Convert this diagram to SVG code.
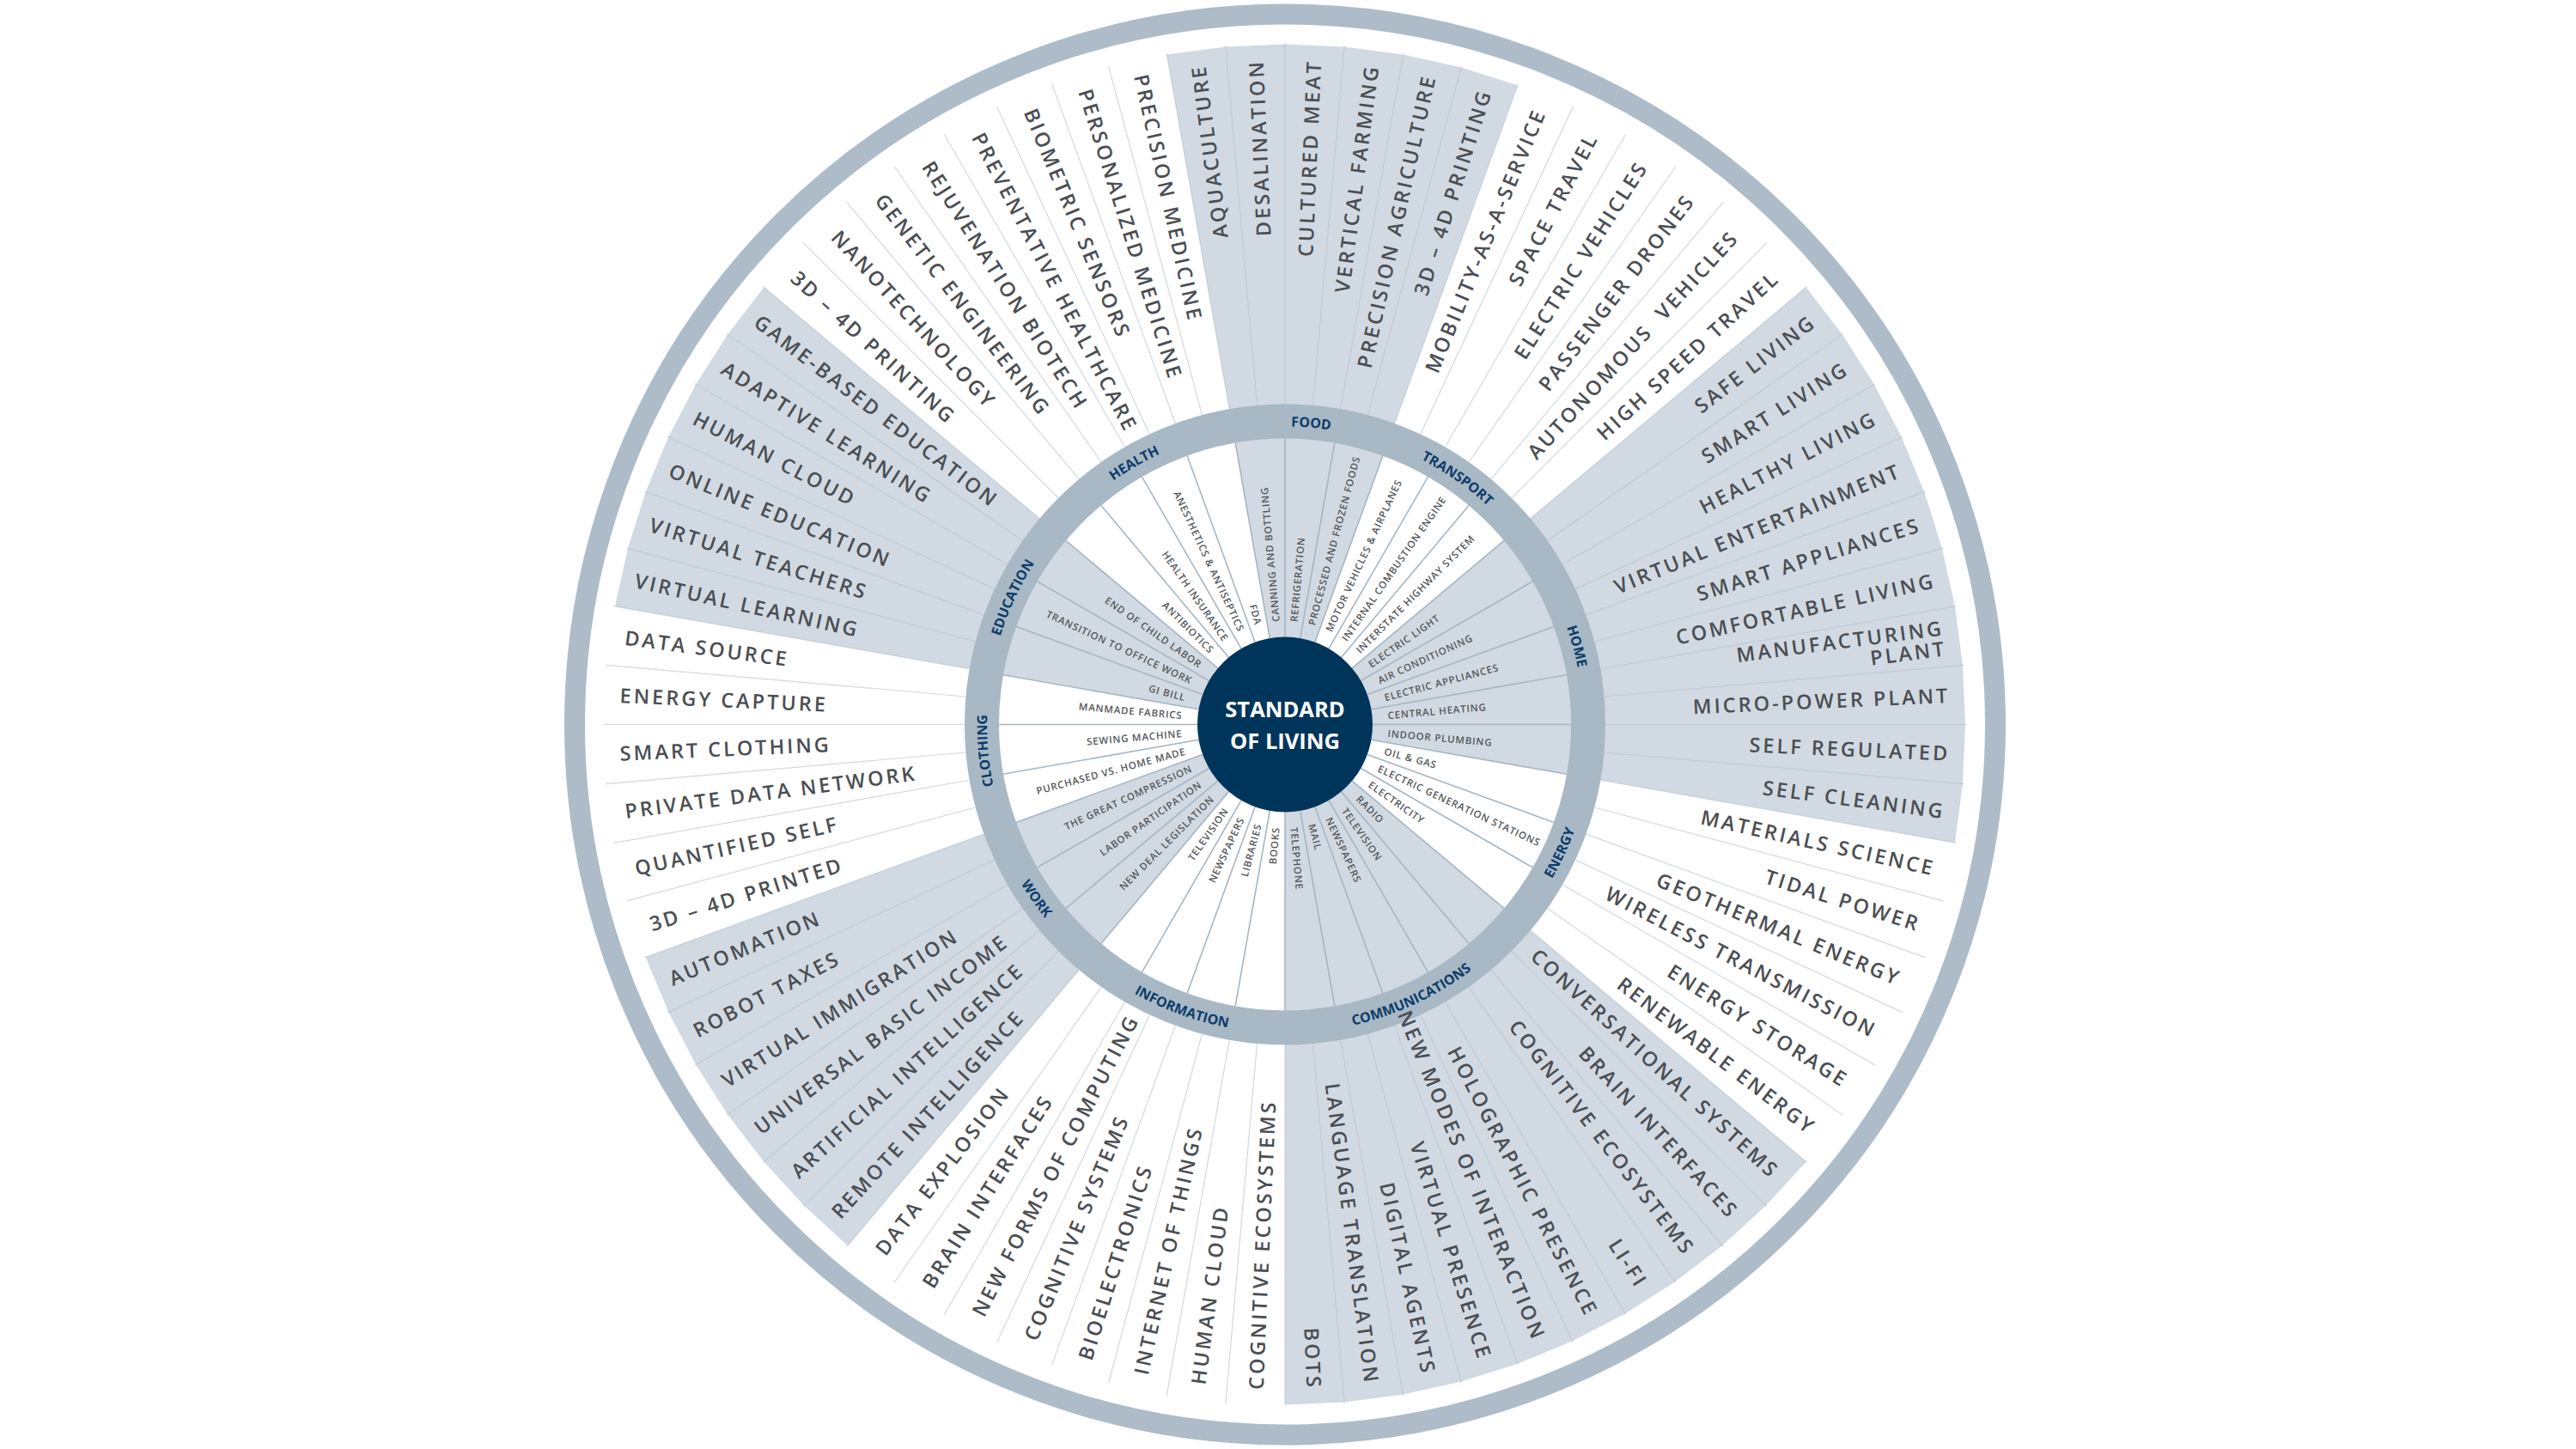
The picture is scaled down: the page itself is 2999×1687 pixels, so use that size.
<svg xmlns="http://www.w3.org/2000/svg" xmlns:xlink="http://www.w3.org/1999/xlink" width="2999" height="1687" viewBox="0 0 2999 1687">
<style>
.sh{fill:#d1dae2}
.o{font-family:"Open Sans","Liberation Sans",sans-serif;font-size:23.5px;font-weight:600;letter-spacing:3px;fill:#4b4e53}
.i{font-family:"Open Sans","Liberation Sans",sans-serif;font-size:11.5px;font-weight:600;letter-spacing:0.8px;fill:#55585c}
.e{text-anchor:end}
.c{font-family:"Open Sans","Liberation Sans",sans-serif;font-size:16px;font-weight:700;fill:#0d3c69;text-anchor:middle}
.ctr{font-family:"Open Sans","Liberation Sans",sans-serif;font-size:25.5px;font-weight:700;fill:#ffffff;text-anchor:middle}
.so{stroke:#b4bfca;stroke-opacity:0.6;stroke-width:1.2}
.si{stroke:#a6b6c3;stroke-width:1.6}
</style>
<defs>
<line id="li" x1="1496" y1="741.5" x2="1496" y2="510.5"/>
<line id="lo" x1="1496" y1="470.5" x2="1496" y2="50"/>
<path id="cw" d="M1496,496.5 A347,347 0 1 1 1496,1190.5 A347,347 0 1 1 1496,496.5"/>
<path id="ccw" d="M1496,484.5 A359,359 0 1 0 1496,1202.5 A359,359 0 1 0 1496,484.5"/>
</defs>
<rect width="2999" height="1687" fill="#ffffff"/>
<g id="wedges">
<path class="sh" d="M1496,843.5 L1358.47,63.53 L1426.97,54.52 L1496,51.5 L1565.03,54.52 L1633.53,63.53 L1700.99,78.48 L1766.88,99.27 Z"/>
<path class="sh" d="M1496,843.5 L2102.70,334.41 L2144.77,389.22 L2181.90,447.5 L2213.80,508.78 L2240.23,572.62 L2261.02,638.51 L2275.97,705.97 L2284.98,774.47 L2288,843.5 L2284.98,912.53 L2275.97,981.03 Z"/>
<path class="sh" d="M1496,843.5 L2102.70,1352.59 L2056.03,1403.53 L2005.09,1450.20 L1950.28,1492.27 L1892,1529.40 L1830.72,1561.30 L1766.88,1587.73 L1700.99,1608.52 L1633.53,1623.47 L1565.03,1632.48 L1496,1635.5 Z"/>
<path class="sh" d="M1496,843.5 L986.91,1450.20 L935.97,1403.53 L889.30,1352.59 L847.23,1297.78 L810.10,1239.5 L778.20,1178.22 L751.77,1114.38 Z"/>
<path class="sh" d="M1496,843.5 L716.03,705.97 L730.98,638.51 L751.77,572.62 L778.20,508.78 L810.10,447.5 L847.23,389.22 L889.30,334.41 Z"/>
</g>
<g id="connectors">
<g class="so">
<use xlink:href="#lo" transform="rotate(0 1496 843.5)"/><use xlink:href="#lo" transform="rotate(5 1496 843.5)"/><use xlink:href="#lo" transform="rotate(10 1496 843.5)"/><use xlink:href="#lo" transform="rotate(15 1496 843.5)"/><use xlink:href="#lo" transform="rotate(20 1496 843.5)"/><use xlink:href="#lo" transform="rotate(25 1496 843.5)"/><use xlink:href="#lo" transform="rotate(30 1496 843.5)"/><use xlink:href="#lo" transform="rotate(35 1496 843.5)"/><use xlink:href="#lo" transform="rotate(40 1496 843.5)"/><use xlink:href="#lo" transform="rotate(45 1496 843.5)"/><use xlink:href="#lo" transform="rotate(50 1496 843.5)"/><use xlink:href="#lo" transform="rotate(55 1496 843.5)"/><use xlink:href="#lo" transform="rotate(60 1496 843.5)"/><use xlink:href="#lo" transform="rotate(65 1496 843.5)"/><use xlink:href="#lo" transform="rotate(70 1496 843.5)"/><use xlink:href="#lo" transform="rotate(75 1496 843.5)"/><use xlink:href="#lo" transform="rotate(80 1496 843.5)"/><use xlink:href="#lo" transform="rotate(85 1496 843.5)"/><use xlink:href="#lo" transform="rotate(90 1496 843.5)"/><use xlink:href="#lo" transform="rotate(95 1496 843.5)"/><use xlink:href="#lo" transform="rotate(100 1496 843.5)"/><use xlink:href="#lo" transform="rotate(105 1496 843.5)"/><use xlink:href="#lo" transform="rotate(110 1496 843.5)"/><use xlink:href="#lo" transform="rotate(115 1496 843.5)"/><use xlink:href="#lo" transform="rotate(120 1496 843.5)"/><use xlink:href="#lo" transform="rotate(125 1496 843.5)"/><use xlink:href="#lo" transform="rotate(130 1496 843.5)"/><use xlink:href="#lo" transform="rotate(135 1496 843.5)"/><use xlink:href="#lo" transform="rotate(140 1496 843.5)"/><use xlink:href="#lo" transform="rotate(145 1496 843.5)"/><use xlink:href="#lo" transform="rotate(150 1496 843.5)"/><use xlink:href="#lo" transform="rotate(155 1496 843.5)"/><use xlink:href="#lo" transform="rotate(160 1496 843.5)"/><use xlink:href="#lo" transform="rotate(165 1496 843.5)"/><use xlink:href="#lo" transform="rotate(170 1496 843.5)"/><use xlink:href="#lo" transform="rotate(175 1496 843.5)"/><use xlink:href="#lo" transform="rotate(180 1496 843.5)"/><use xlink:href="#lo" transform="rotate(185 1496 843.5)"/><use xlink:href="#lo" transform="rotate(190 1496 843.5)"/><use xlink:href="#lo" transform="rotate(195 1496 843.5)"/><use xlink:href="#lo" transform="rotate(200 1496 843.5)"/><use xlink:href="#lo" transform="rotate(205 1496 843.5)"/><use xlink:href="#lo" transform="rotate(210 1496 843.5)"/><use xlink:href="#lo" transform="rotate(215 1496 843.5)"/><use xlink:href="#lo" transform="rotate(220 1496 843.5)"/><use xlink:href="#lo" transform="rotate(225 1496 843.5)"/><use xlink:href="#lo" transform="rotate(230 1496 843.5)"/><use xlink:href="#lo" transform="rotate(235 1496 843.5)"/><use xlink:href="#lo" transform="rotate(240 1496 843.5)"/><use xlink:href="#lo" transform="rotate(245 1496 843.5)"/><use xlink:href="#lo" transform="rotate(250 1496 843.5)"/><use xlink:href="#lo" transform="rotate(255 1496 843.5)"/><use xlink:href="#lo" transform="rotate(260 1496 843.5)"/><use xlink:href="#lo" transform="rotate(265 1496 843.5)"/><use xlink:href="#lo" transform="rotate(270 1496 843.5)"/><use xlink:href="#lo" transform="rotate(275 1496 843.5)"/><use xlink:href="#lo" transform="rotate(280 1496 843.5)"/><use xlink:href="#lo" transform="rotate(285 1496 843.5)"/><use xlink:href="#lo" transform="rotate(290 1496 843.5)"/><use xlink:href="#lo" transform="rotate(295 1496 843.5)"/><use xlink:href="#lo" transform="rotate(300 1496 843.5)"/><use xlink:href="#lo" transform="rotate(305 1496 843.5)"/><use xlink:href="#lo" transform="rotate(310 1496 843.5)"/><use xlink:href="#lo" transform="rotate(315 1496 843.5)"/><use xlink:href="#lo" transform="rotate(320 1496 843.5)"/><use xlink:href="#lo" transform="rotate(325 1496 843.5)"/><use xlink:href="#lo" transform="rotate(330 1496 843.5)"/><use xlink:href="#lo" transform="rotate(335 1496 843.5)"/><use xlink:href="#lo" transform="rotate(340 1496 843.5)"/><use xlink:href="#lo" transform="rotate(345 1496 843.5)"/><use xlink:href="#lo" transform="rotate(350 1496 843.5)"/><use xlink:href="#lo" transform="rotate(355 1496 843.5)"/>
</g>
<g class="si">
<use xlink:href="#li" transform="rotate(0 1496 843.5)"/><use xlink:href="#li" transform="rotate(10 1496 843.5)"/><use xlink:href="#li" transform="rotate(20 1496 843.5)"/><use xlink:href="#li" transform="rotate(30 1496 843.5)"/><use xlink:href="#li" transform="rotate(40 1496 843.5)"/><use xlink:href="#li" transform="rotate(50 1496 843.5)"/><use xlink:href="#li" transform="rotate(60 1496 843.5)"/><use xlink:href="#li" transform="rotate(70 1496 843.5)"/><use xlink:href="#li" transform="rotate(80 1496 843.5)"/><use xlink:href="#li" transform="rotate(90 1496 843.5)"/><use xlink:href="#li" transform="rotate(100 1496 843.5)"/><use xlink:href="#li" transform="rotate(110 1496 843.5)"/><use xlink:href="#li" transform="rotate(120 1496 843.5)"/><use xlink:href="#li" transform="rotate(130 1496 843.5)"/><use xlink:href="#li" transform="rotate(140 1496 843.5)"/><use xlink:href="#li" transform="rotate(150 1496 843.5)"/><use xlink:href="#li" transform="rotate(160 1496 843.5)"/><use xlink:href="#li" transform="rotate(170 1496 843.5)"/><use xlink:href="#li" transform="rotate(180 1496 843.5)"/><use xlink:href="#li" transform="rotate(190 1496 843.5)"/><use xlink:href="#li" transform="rotate(200 1496 843.5)"/><use xlink:href="#li" transform="rotate(210 1496 843.5)"/><use xlink:href="#li" transform="rotate(220 1496 843.5)"/><use xlink:href="#li" transform="rotate(230 1496 843.5)"/><use xlink:href="#li" transform="rotate(240 1496 843.5)"/><use xlink:href="#li" transform="rotate(250 1496 843.5)"/><use xlink:href="#li" transform="rotate(260 1496 843.5)"/><use xlink:href="#li" transform="rotate(270 1496 843.5)"/><use xlink:href="#li" transform="rotate(280 1496 843.5)"/><use xlink:href="#li" transform="rotate(290 1496 843.5)"/><use xlink:href="#li" transform="rotate(300 1496 843.5)"/><use xlink:href="#li" transform="rotate(310 1496 843.5)"/><use xlink:href="#li" transform="rotate(320 1496 843.5)"/><use xlink:href="#li" transform="rotate(330 1496 843.5)"/><use xlink:href="#li" transform="rotate(340 1496 843.5)"/><use xlink:href="#li" transform="rotate(350 1496 843.5)"/>
</g>
</g>
<g id="rings">
<circle cx="1496" cy="843.5" r="353" fill="none" stroke="#a8b8c5" stroke-width="40"/>
<circle cx="1496" cy="843.5" r="827" fill="none" stroke="#adbcc8" stroke-width="24"/>
</g>
<g id="center">
<circle cx="1496" cy="843.5" r="102" fill="#00355b"/>
<text class="ctr" x="1496" y="835">STANDARD</text>
<text class="ctr" x="1496" y="872">OF LIVING</text>
</g>
<g id="food">
<text class="c"><textPath xlink:href="#cw" startOffset="1.389%">FOOD</textPath></text>
<g class="i">
<text x="1616" y="843.5" dy="0.36em" transform="rotate(-95 1496 843.5)">CANNING AND BOTTLING</text>
<text x="1616" y="843.5" dy="0.36em" transform="rotate(-85 1496 843.5)">REFRIGERATION</text>
<text x="1616" y="843.5" dy="0.36em" transform="rotate(-75 1496 843.5)">PROCESSED AND FROZEN FOODS</text>
</g>
<g class="o e">
<text x="2271" y="843.5" dy="0.36em" transform="rotate(-97.5 1496 843.5)">AQUACULTURE</text>
<text x="2271" y="843.5" dy="0.36em" transform="rotate(-92.5 1496 843.5)">DESALINATION</text>
<text x="2271" y="843.5" dy="0.36em" transform="rotate(-87.5 1496 843.5)">CULTURED MEAT</text>
<text x="2271" y="843.5" dy="0.36em" transform="rotate(-82.5 1496 843.5)">VERTICAL FARMING</text>
<text x="2271" y="843.5" dy="0.36em" transform="rotate(-77.5 1496 843.5)">PRECISION AGRICULTURE</text>
<text x="2271" y="843.5" dy="0.36em" transform="rotate(-72.5 1496 843.5)">3D – 4D PRINTING</text>
</g>
</g>
<g id="transport">
<text class="c"><textPath xlink:href="#cw" startOffset="9.722%">TRANSPORT</textPath></text>
<g class="i">
<text x="1616" y="843.5" dy="0.36em" transform="rotate(-65 1496 843.5)">MOTOR VEHICLES &amp; AIRPLANES</text>
<text x="1616" y="843.5" dy="0.36em" transform="rotate(-55 1496 843.5)">INTERNAL COMBUSTION ENGINE</text>
<text x="1616" y="843.5" dy="0.36em" transform="rotate(-45 1496 843.5)">INTERSTATE HIGHWAY SYSTEM</text>
</g>
<g class="o e">
<text x="2271" y="843.5" dy="0.36em" transform="rotate(-67.5 1496 843.5)">MOBILITY-AS-A-SERVICE</text>
<text x="2271" y="843.5" dy="0.36em" transform="rotate(-62.5 1496 843.5)">SPACE TRAVEL</text>
<text x="2271" y="843.5" dy="0.36em" transform="rotate(-57.5 1496 843.5)">ELECTRIC VEHICLES</text>
<text x="2271" y="843.5" dy="0.36em" transform="rotate(-52.5 1496 843.5)">PASSENGER DRONES</text>
<text x="2271" y="843.5" dy="0.36em" transform="rotate(-47.5 1496 843.5)">AUTONOMOUS&#160; VEHICLES</text>
<text x="2271" y="843.5" dy="0.36em" transform="rotate(-42.5 1496 843.5)">HIGH SPEED TRAVEL</text>
</g>
</g>
<g id="home">
<text class="c"><textPath xlink:href="#cw" startOffset="20.833%">HOME</textPath></text>
<g class="i">
<text x="1616" y="843.5" dy="0.36em" transform="rotate(-35 1496 843.5)">ELECTRIC LIGHT</text>
<text x="1616" y="843.5" dy="0.36em" transform="rotate(-25 1496 843.5)">AIR CONDITIONING</text>
<text x="1616" y="843.5" dy="0.36em" transform="rotate(-15 1496 843.5)">ELECTRIC APPLIANCES</text>
<text x="1616" y="843.5" dy="0.36em" transform="rotate(-5 1496 843.5)">CENTRAL HEATING</text>
<text x="1616" y="843.5" dy="0.36em" transform="rotate(5 1496 843.5)">INDOOR PLUMBING</text>
</g>
<g class="o e">
<text x="2271" y="843.5" dy="0.36em" transform="rotate(-37.5 1496 843.5)">SAFE LIVING</text>
<text x="2271" y="843.5" dy="0.36em" transform="rotate(-32.5 1496 843.5)">SMART LIVING</text>
<text x="2271" y="843.5" dy="0.36em" transform="rotate(-27.5 1496 843.5)">HEALTHY LIVING</text>
<text x="2271" y="843.5" dy="0.36em" transform="rotate(-22.5 1496 843.5)">VIRTUAL ENTERTAINMENT</text>
<text x="2271" y="843.5" dy="0.36em" transform="rotate(-17.5 1496 843.5)">SMART APPLIANCES</text>
<text x="2271" y="843.5" dy="0.36em" transform="rotate(-12.5 1496 843.5)">COMFORTABLE LIVING</text>
<text y="843.5" transform="rotate(-7.5 1496 843.5)"><tspan x="2271" dy="-3">MANUFACTURING</tspan><tspan x="2271" dy="24">PLANT</tspan></text>
<text x="2271" y="843.5" dy="0.36em" transform="rotate(-2.5 1496 843.5)">MICRO-POWER PLANT</text>
<text x="2271" y="843.5" dy="0.36em" transform="rotate(2.5 1496 843.5)">SELF REGULATED</text>
<text x="2271" y="843.5" dy="0.36em" transform="rotate(7.5 1496 843.5)">SELF CLEANING</text>
</g>
</g>
<g id="energy">
<text class="c"><textPath xlink:href="#ccw" startOffset="68.056%">ENERGY</textPath></text>
<g class="i">
<text x="1616" y="843.5" dy="0.36em" transform="rotate(15 1496 843.5)">OIL &amp; GAS</text>
<text x="1616" y="843.5" dy="0.36em" transform="rotate(25 1496 843.5)">ELECTRIC GENERATION STATIONS</text>
<text x="1616" y="843.5" dy="0.36em" transform="rotate(35 1496 843.5)">ELECTRICITY</text>
</g>
<g class="o e">
<text x="2271" y="843.5" dy="0.36em" transform="rotate(12.5 1496 843.5)">MATERIALS SCIENCE</text>
<text x="2271" y="843.5" dy="0.36em" transform="rotate(17.5 1496 843.5)">TIDAL POWER</text>
<text x="2271" y="843.5" dy="0.36em" transform="rotate(22.5 1496 843.5)">GEOTHERMAL ENERGY</text>
<text x="2271" y="843.5" dy="0.36em" transform="rotate(27.5 1496 843.5)">WIRELESS TRANSMISSION</text>
<text x="2271" y="843.5" dy="0.36em" transform="rotate(32.5 1496 843.5)">ENERGY STORAGE</text>
<text x="2271" y="843.5" dy="0.36em" transform="rotate(37.5 1496 843.5)">RENEWABLE ENERGY</text>
</g>
</g>
<g id="communications">
<text class="c"><textPath xlink:href="#ccw" startOffset="56.944%">COMMUNICATIONS</textPath></text>
<g class="i">
<text x="1616" y="843.5" dy="0.36em" transform="rotate(45 1496 843.5)">RADIO</text>
<text x="1616" y="843.5" dy="0.36em" transform="rotate(55 1496 843.5)">TELEVISION</text>
<text x="1616" y="843.5" dy="0.36em" transform="rotate(65 1496 843.5)">NEWSPAPERS</text>
<text x="1616" y="843.5" dy="0.36em" transform="rotate(75 1496 843.5)">MAIL</text>
<text x="1616" y="843.5" dy="0.36em" transform="rotate(85 1496 843.5)">TELEPHONE</text>
</g>
<g class="o e">
<text x="2271" y="843.5" dy="0.36em" transform="rotate(42.5 1496 843.5)">CONVERSATIONAL SYSTEMS</text>
<text x="2271" y="843.5" dy="0.36em" transform="rotate(47.5 1496 843.5)">BRAIN INTERFACES</text>
<text x="2271" y="843.5" dy="0.36em" transform="rotate(52.5 1496 843.5)">COGNITIVE ECOSYSTEMS</text>
<text x="2271" y="843.5" dy="0.36em" transform="rotate(57.5 1496 843.5)">LI-FI</text>
<text x="2271" y="843.5" dy="0.36em" transform="rotate(62.5 1496 843.5)">HOLOGRAPHIC PRESENCE</text>
<text x="2271" y="843.5" dy="0.36em" transform="rotate(67.5 1496 843.5)">NEW MODES OF INTERACTION</text>
<text x="2271" y="843.5" dy="0.36em" transform="rotate(72.5 1496 843.5)">VIRTUAL PRESENCE</text>
<text x="2271" y="843.5" dy="0.36em" transform="rotate(77.5 1496 843.5)">DIGITAL AGENTS</text>
<text x="2271" y="843.5" dy="0.36em" transform="rotate(82.5 1496 843.5)">LANGUAGE TRANSLATION</text>
<text x="2271" y="843.5" dy="0.36em" transform="rotate(87.5 1496 843.5)">BOTS</text>
</g>
</g>
<g id="information">
<text class="c"><textPath xlink:href="#ccw" startOffset="44.444%">INFORMATION</textPath></text>
<g class="i e">
<text x="1376" y="843.5" dy="0.36em" transform="rotate(-85 1496 843.5)">BOOKS</text>
<text x="1376" y="843.5" dy="0.36em" transform="rotate(-75 1496 843.5)">LIBRARIES</text>
<text x="1376" y="843.5" dy="0.36em" transform="rotate(-65 1496 843.5)">NEWSPAPERS</text>
<text x="1376" y="843.5" dy="0.36em" transform="rotate(-55 1496 843.5)">TELEVISION</text>
</g>
<g class="o">
<text x="721" y="843.5" dy="0.36em" transform="rotate(-87.5 1496 843.5)">COGNITIVE ECOSYSTEMS</text>
<text x="721" y="843.5" dy="0.36em" transform="rotate(-82.5 1496 843.5)">HUMAN CLOUD</text>
<text x="721" y="843.5" dy="0.36em" transform="rotate(-77.5 1496 843.5)">INTERNET OF THINGS</text>
<text x="721" y="843.5" dy="0.36em" transform="rotate(-72.5 1496 843.5)">BIOELECTRONICS</text>
<text x="721" y="843.5" dy="0.36em" transform="rotate(-67.5 1496 843.5)">COGNITIVE SYSTEMS</text>
<text x="721" y="843.5" dy="0.36em" transform="rotate(-62.5 1496 843.5)">NEW FORMS OF COMPUTING</text>
<text x="721" y="843.5" dy="0.36em" transform="rotate(-57.5 1496 843.5)">BRAIN INTERFACES</text>
<text x="721" y="843.5" dy="0.36em" transform="rotate(-52.5 1496 843.5)">DATA EXPLOSION</text>
</g>
</g>
<g id="work">
<text class="c"><textPath xlink:href="#ccw" startOffset="34.722%">WORK</textPath></text>
<g class="i e">
<text x="1376" y="843.5" dy="0.36em" transform="rotate(-45 1496 843.5)">NEW DEAL LEGISLATION</text>
<text x="1376" y="843.5" dy="0.36em" transform="rotate(-35 1496 843.5)">LABOR PARTICIPATION</text>
<text x="1376" y="843.5" dy="0.36em" transform="rotate(-25 1496 843.5)">THE GREAT COMPRESSION</text>
</g>
<g class="o">
<text x="721" y="843.5" dy="0.36em" transform="rotate(-47.5 1496 843.5)">REMOTE INTELLIGENCE</text>
<text x="721" y="843.5" dy="0.36em" transform="rotate(-42.5 1496 843.5)">ARTIFICIAL INTELLIGENCE</text>
<text x="721" y="843.5" dy="0.36em" transform="rotate(-37.5 1496 843.5)">UNIVERSAL BASIC INCOME</text>
<text x="721" y="843.5" dy="0.36em" transform="rotate(-32.5 1496 843.5)">VIRTUAL IMMIGRATION</text>
<text x="721" y="843.5" dy="0.36em" transform="rotate(-27.5 1496 843.5)">ROBOT TAXES</text>
<text x="721" y="843.5" dy="0.36em" transform="rotate(-22.5 1496 843.5)">AUTOMATION</text>
</g>
</g>
<g id="clothing">
<text class="c"><textPath xlink:href="#cw" startOffset="73.611%">CLOTHING</textPath></text>
<g class="i e">
<text x="1376" y="843.5" dy="0.36em" transform="rotate(-15 1496 843.5)">PURCHASED VS. HOME MADE</text>
<text x="1376" y="843.5" dy="0.36em" transform="rotate(-5 1496 843.5)">SEWING MACHINE</text>
<text x="1376" y="843.5" dy="0.36em" transform="rotate(5 1496 843.5)">MANMADE FABRICS</text>
</g>
<g class="o">
<text x="721" y="843.5" dy="0.36em" transform="rotate(-17.5 1496 843.5)">3D – 4D PRINTED</text>
<text x="721" y="843.5" dy="0.36em" transform="rotate(-12.5 1496 843.5)">QUANTIFIED SELF</text>
<text x="721" y="843.5" dy="0.36em" transform="rotate(-7.5 1496 843.5)">PRIVATE DATA NETWORK</text>
<text x="721" y="843.5" dy="0.36em" transform="rotate(-2.5 1496 843.5)">SMART CLOTHING</text>
<text x="721" y="843.5" dy="0.36em" transform="rotate(2.5 1496 843.5)">ENERGY CAPTURE</text>
<text x="721" y="843.5" dy="0.36em" transform="rotate(7.5 1496 843.5)">DATA SOURCE</text>
</g>
</g>
<g id="education">
<text class="c"><textPath xlink:href="#cw" startOffset="81.944%">EDUCATION</textPath></text>
<g class="i e">
<text x="1376" y="843.5" dy="0.36em" transform="rotate(15 1496 843.5)">GI BILL</text>
<text x="1376" y="843.5" dy="0.36em" transform="rotate(25 1496 843.5)">TRANSITION TO OFFICE WORK</text>
<text x="1376" y="843.5" dy="0.36em" transform="rotate(35 1496 843.5)">END OF CHILD LABOR</text>
</g>
<g class="o">
<text x="721" y="843.5" dy="0.36em" transform="rotate(12.5 1496 843.5)">VIRTUAL LEARNING</text>
<text x="721" y="843.5" dy="0.36em" transform="rotate(17.5 1496 843.5)">VIRTUAL TEACHERS</text>
<text x="721" y="843.5" dy="0.36em" transform="rotate(22.5 1496 843.5)">ONLINE EDUCATION</text>
<text x="721" y="843.5" dy="0.36em" transform="rotate(27.5 1496 843.5)">HUMAN CLOUD</text>
<text x="721" y="843.5" dy="0.36em" transform="rotate(32.5 1496 843.5)">ADAPTIVE LEARNING</text>
<text x="721" y="843.5" dy="0.36em" transform="rotate(37.5 1496 843.5)">GAME-BASED EDUCATION</text>
</g>
</g>
<g id="health">
<text class="c"><textPath xlink:href="#cw" startOffset="91.667%">HEALTH</textPath></text>
<g class="i e">
<text x="1376" y="843.5" dy="0.36em" transform="rotate(45 1496 843.5)">ANTIBIOTICS</text>
<text x="1376" y="843.5" dy="0.36em" transform="rotate(55 1496 843.5)">HEALTH INSURANCE</text>
<text x="1376" y="843.5" dy="0.36em" transform="rotate(65 1496 843.5)">ANESTHETICS &amp; ANTISEPTICS</text>
<text x="1376" y="843.5" dy="0.36em" transform="rotate(75 1496 843.5)">FDA</text>
</g>
<g class="o">
<text x="721" y="843.5" dy="0.36em" transform="rotate(42.5 1496 843.5)">3D – 4D PRINTING</text>
<text x="721" y="843.5" dy="0.36em" transform="rotate(47.5 1496 843.5)">NANOTECHNOLOGY</text>
<text x="721" y="843.5" dy="0.36em" transform="rotate(52.5 1496 843.5)">GENETIC ENGINEERING</text>
<text x="721" y="843.5" dy="0.36em" transform="rotate(57.5 1496 843.5)">REJUVENATION BIOTECH</text>
<text x="721" y="843.5" dy="0.36em" transform="rotate(62.5 1496 843.5)">PREVENTATIVE HEALTHCARE</text>
<text x="721" y="843.5" dy="0.36em" transform="rotate(67.5 1496 843.5)">BIOMETRIC SENSORS</text>
<text x="721" y="843.5" dy="0.36em" transform="rotate(72.5 1496 843.5)">PERSONALIZED MEDICINE</text>
<text x="721" y="843.5" dy="0.36em" transform="rotate(77.5 1496 843.5)">PRECISION MEDICINE</text>
</g>
</g>
</svg>
